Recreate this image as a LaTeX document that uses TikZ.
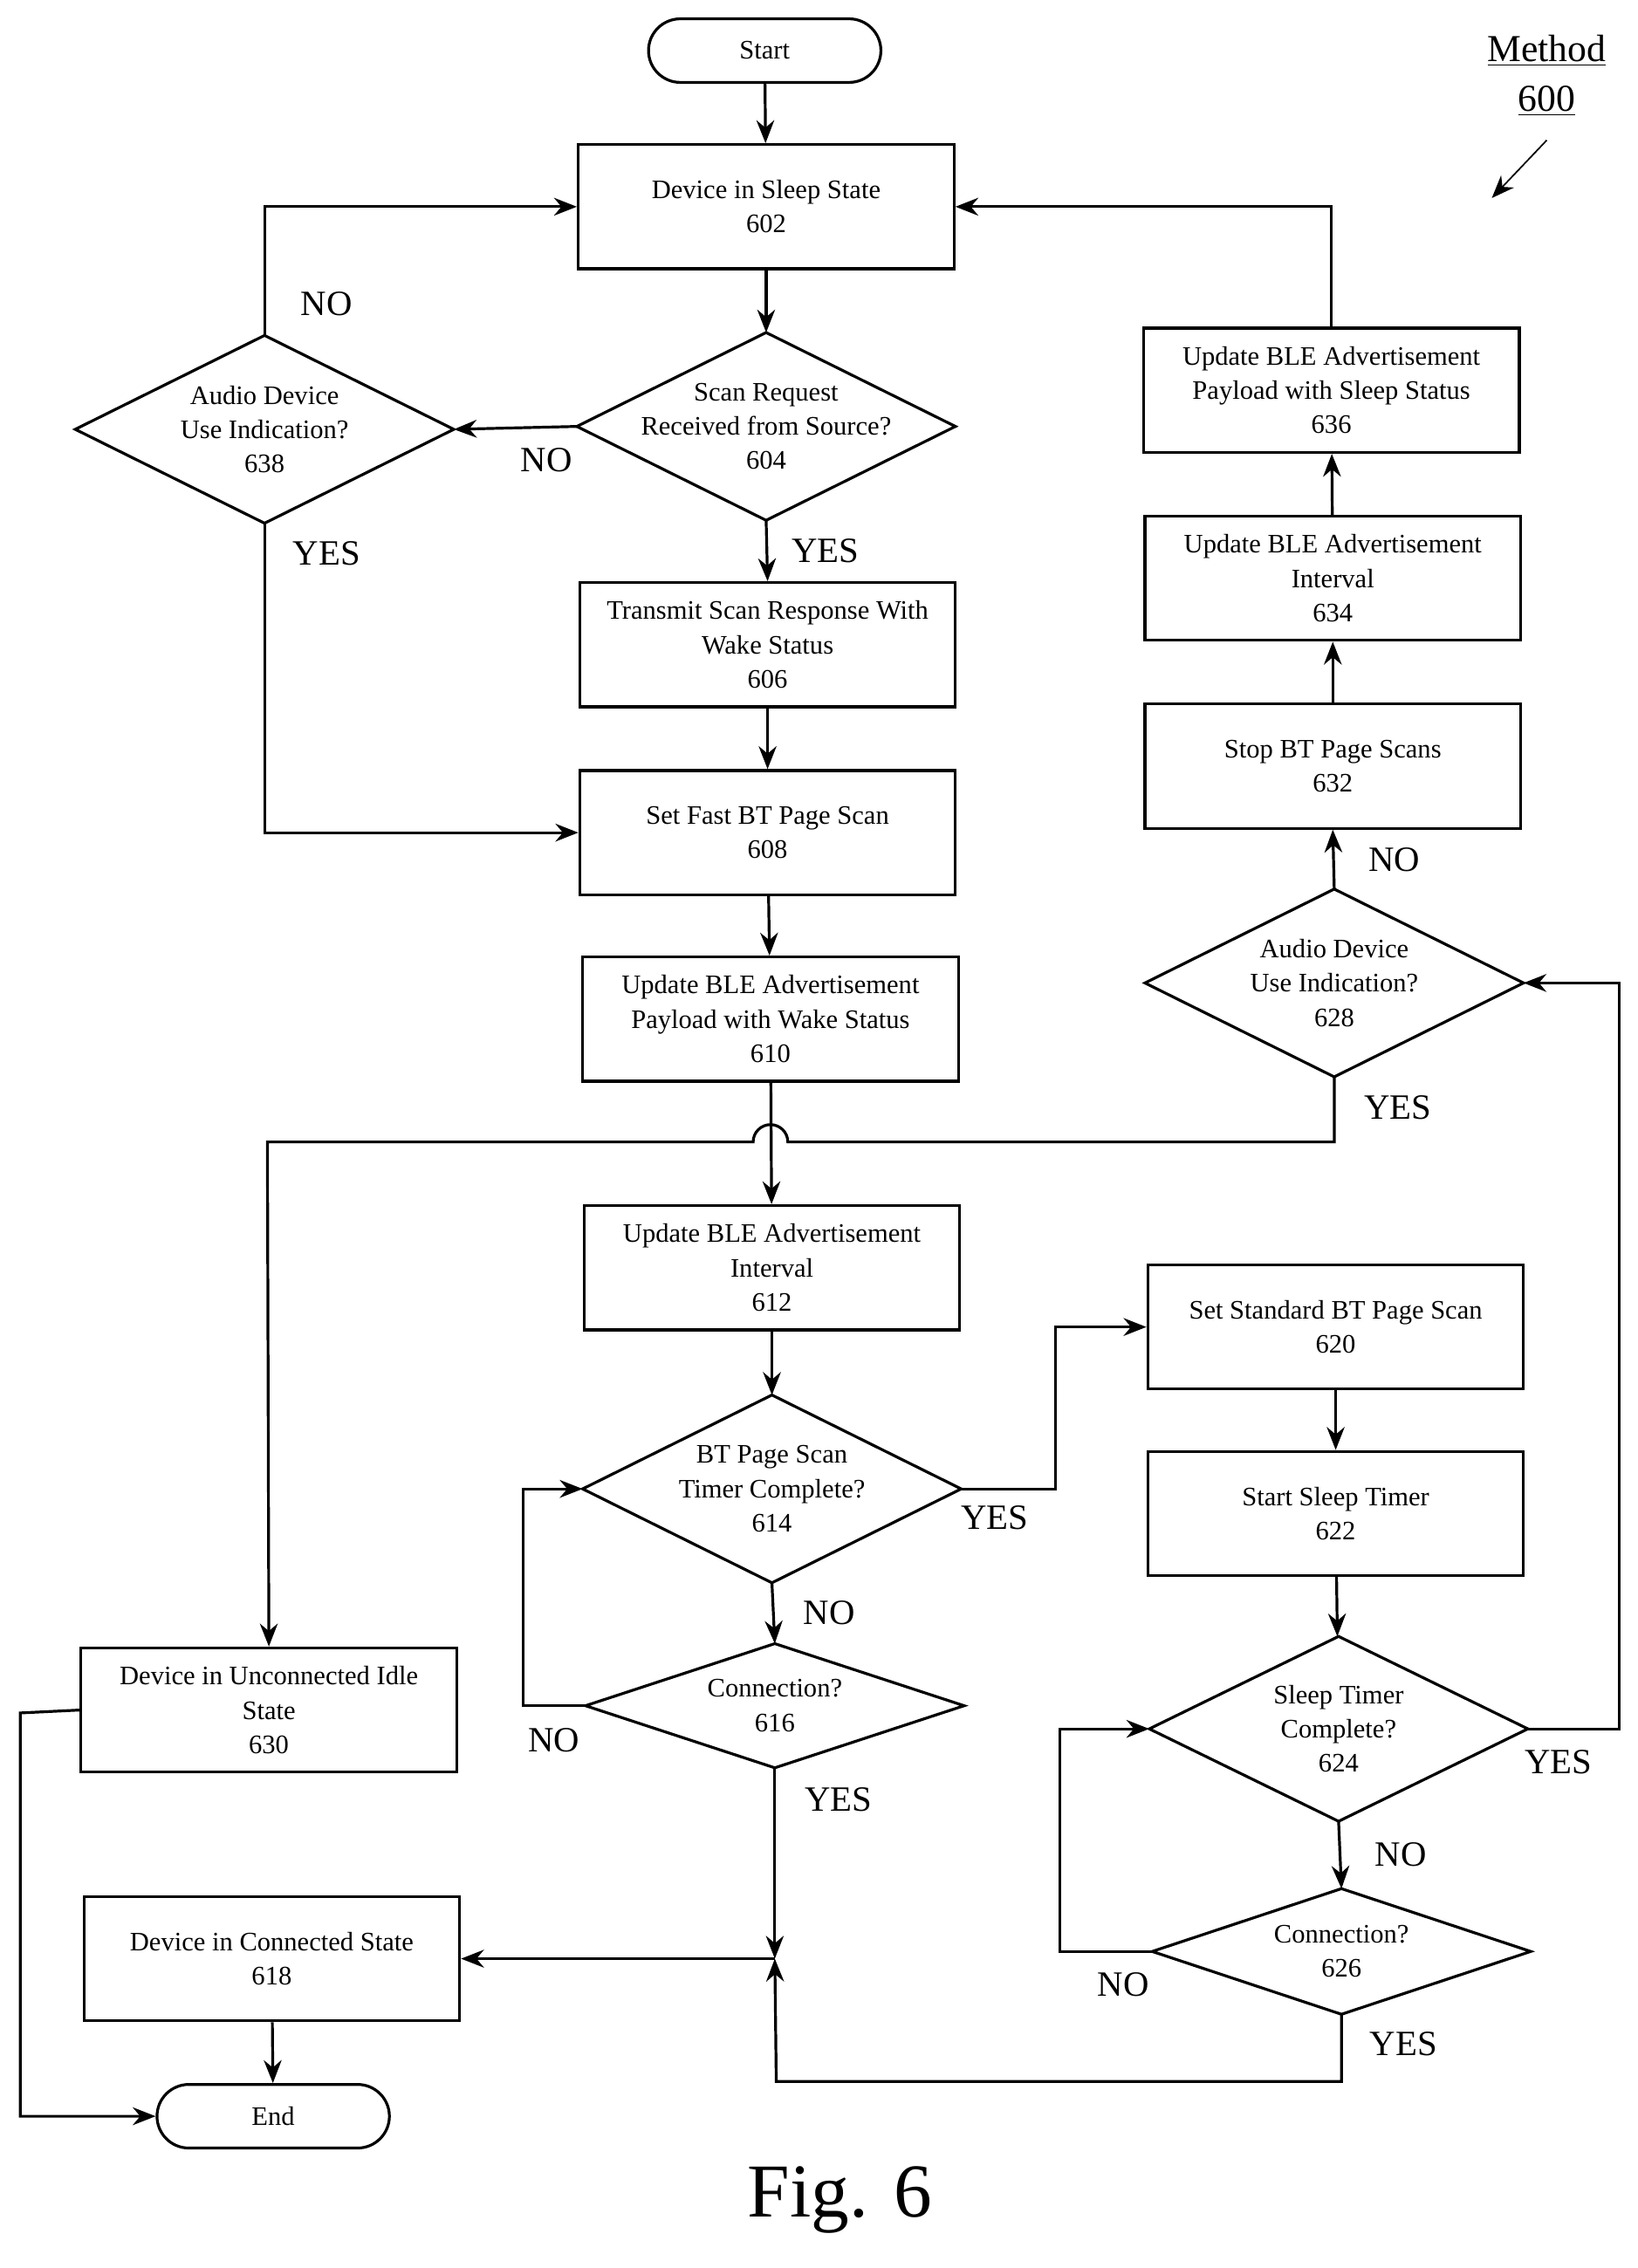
\documentclass[tikz,border=0pt]{standalone}
\usepackage{fontspec}
\setmainfont{Liberation Serif}
\usetikzlibrary{arrows.meta,shapes.misc}
\begin{document}
\begin{tikzpicture}[x=0.02cm,y=0.02cm,
 every path/.style={line width=1.1pt},
 >={Stealth[length=9pt,width=7pt]},
 box/.style={draw,rectangle,minimum width=5.2cm,minimum height=1.72cm,align=center,font=\fontsize{10.5}{13.5}\selectfont,inner sep=0pt},
 term/.style={draw,rounded rectangle,minimum width=3.45cm,minimum height=0.88cm,font=\fontsize{10.5}{13}\selectfont},
 dmd/.style={rectangle,minimum width=5.2cm,minimum height=2.56cm,align=center,font=\fontsize{10.5}{13.5}\selectfont,inner sep=0pt},
 lab/.style={font=\fontsize{14}{16}\selectfont}]
\newcommand\dia[4][2.56cm]{\node[dmd,minimum height=#1] (#2) at (#3) {#4};
 \draw (#2.west)--(#2.north)--(#2.east)--(#2.south)--cycle;}
\useasboundingbox (0,0) rectangle (1133,-1569);
\node[term] (start) at (529,-35) {Start};
\node[box] (602) at (530,-143) {Device in Sleep State\\602};
\dia{604}{530,-295}{Scan Request\\Received from Source?\\604}
\dia{638}{183,-297}{Audio Device\\Use Indication?\\638}
\node[box] (606) at (531,-446) {Transmit Scan Response With\\Wake Status\\606};
\node[box] (608) at (531,-576) {Set Fast BT Page Scan\\608};
\node[box] (610) at (533,-705) {Update BLE Advertisement\\Payload with Wake Status\\610};
\node[box] (612) at (534,-877) {Update BLE Advertisement\\Interval\\612};
\dia{614}{534,-1030}{BT Page Scan\\Timer Complete?\\614}
\dia[1.68cm]{616}{536,-1180}{Connection?\\616}
\node[box] (630) at (186,-1183) {Device in Unconnected Idle\\State\\630};
\node[box] (618) at (188,-1355) {Device in Connected State\\618};
\node[term] (end) at (189,-1464) {End};
\node[box] (620) at (924,-918) {Set Standard BT Page Scan\\620};
\node[box] (622) at (924,-1047) {Start Sleep Timer\\622};
\dia[2.52cm]{624}{926,-1196}{Sleep Timer\\Complete?\\624}
\dia[1.70cm]{626}{928,-1350}{Connection?\\626}
\dia{628}{923,-680}{Audio Device\\Use Indication?\\628}
\node[box] (632) at (922,-530) {Stop BT Page Scans\\632};
\node[box] (634) at (922,-400) {Update BLE Advertisement\\Interval\\634};
\node[box] (636) at (921,-270) {Update BLE Advertisement\\Payload with Sleep Status\\636};
\node[lab,font=\fontsize{15}{17}\selectfont] (m1) at (1070,-35) {\underline{Method}};
\node[lab,font=\fontsize{15}{17}\selectfont] (m2) at (1070,-70) {\underline{600}};
\coordinate (ma) at (1070,-97); \coordinate (mb) at (1032,-137);
\draw[->,line width=0.6pt] (ma)--(mb);
\node[font=\fontsize{30}{34}\selectfont] (fig) at (581,-1522) {Fig. 6};
% connectors
\draw[->] (start)--(602);
\draw[->] (602)--(604);
\draw[->] (604.west)--(638.east);
\node[lab] (n604) at (378,-318) {NO};
\draw[->] (604.south)--(606.north) node[lab,pos=0.5,right=6pt] {YES};
\draw[->] (638.north)|-(602.west);
\node[lab] (n638) at (226,-210) {NO};
\draw[->] (638.south)|-(608.west);
\node[lab] (y638) at (226,-383) {YES};
\draw[->] (606)--(608);
\draw[->] (608)--(610);
\draw[->] (610)--(612);
\coordinate (c1) at (923,-790); \coordinate (h1) at (545,-790); \coordinate (c2) at (185,-790);
\draw[->] (628.south)--(c1)--(h1) arc[start angle=0,end angle=180,radius=0.24cm]--(c2)--(630.north);
\node[lab] (y628) at (967,-766) {YES};
\draw[->] (612)--(614);
\coordinate (c3) at (730,-1030);
\draw[->] (614.east)--(c3)|-(620.west);
\node[lab] (y614) at (688,-1050) {YES};
\draw[->] (614.south)--(616.north) node[lab,pos=0.5,right=8pt] {NO};
\coordinate (c4) at (362,-1180);
\draw[->] (616.west)--(c4)|-(614.west);
\node[lab] (n616) at (383,-1204) {NO};
\coordinate (J) at (536,-1355);
\draw[->] (616.south)--(J);
\node[lab] (y616) at (580,-1245) {YES};
\draw[->] (J)--(618.east);
\coordinate (c5) at (537,-1440);
\draw[->] (626.south)|-(c5)--(J);
\node[lab] (y626) at (971,-1414) {YES};
\draw[->] (620)--(622);
\draw[->] (622)--(624);
\coordinate (c6) at (1120,-1196);
\draw[->] (624.east)--(c6)|-(628.east);
\node[lab] (y624) at (1078,-1219) {YES};
\draw[->] (624.south)--(626.north) node[lab,pos=0.5,right=10pt] {NO};
\coordinate (c7) at (733,-1350);
\draw[->] (626.west)--(c7)|-(624.west);
\node[lab] (n626) at (777,-1373) {NO};
\draw[->] (628.north)--(632.south) node[lab,pos=0.5,right=10pt] {NO};
\draw[->] (632)--(634);
\draw[->] (634)--(636);
\draw[->] (636.north)|-(602.east);
\draw[->] (618)--(end);
\coordinate (c8) at (14,-1185);
\draw[->] (630.west)--(c8)|-(end.west);
\end{tikzpicture}
\end{document}
